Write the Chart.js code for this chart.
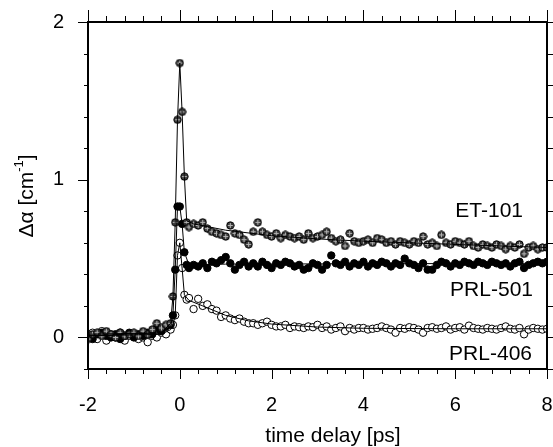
<!DOCTYPE html>
<html>
<head>
<meta charset="utf-8">
<script src="https://cdn.jsdelivr.net/npm/chart.js@4.4.1/dist/chart.umd.min.js"></script>
<style>
  body { margin: 0; background: #fff; }
  #wrap { width: 553px; height: 447px; position: relative; }
</style>
</head>
<body>
<div id="wrap"><canvas id="chart"></canvas></div>
<script>
// time axis (ps), shared by all three samples
const times = [
  -2.0, -1.9, -1.8, -1.7, -1.6, -1.5, -1.4, -1.3, -1.2, -1.1, -1.0, -0.9, -0.8, -0.7, -0.6, -0.5, -0.4, -0.3, -0.2,
  -0.15, -0.1, -0.05, 0, 0.05, 0.1, 0.15,
  0.2, 0.3, 0.4, 0.5, 0.6, 0.7, 0.8, 0.9, 1.0,
  1.1, 1.2, 1.3, 1.4, 1.5, 1.6, 1.7, 1.8, 1.9, 2.0,
  2.1, 2.2, 2.3, 2.4, 2.5, 2.6, 2.7, 2.8, 2.9, 3.0,
  3.1, 3.2, 3.3, 3.4, 3.5, 3.6, 3.7, 3.8, 3.9, 4.0,
  4.1, 4.2, 4.3, 4.4, 4.5, 4.6, 4.7, 4.8, 4.9, 5.0,
  5.1, 5.2, 5.3, 5.4, 5.5, 5.6, 5.7, 5.8, 5.9, 6.0,
  6.1, 6.2, 6.3, 6.4, 6.5, 6.6, 6.7, 6.8, 6.9, 7.0,
  7.1, 7.2, 7.3, 7.4, 7.5, 7.6, 7.7, 7.8, 7.9, 8.0
];

const et101 = [
  -0.01, 0.02, 0.03, 0.01, 0.04, 0.02, 0.00, 0.03, 0.01, 0.02, 0.03, 0.01, 0.04, 0.02, 0.05, 0.09, 0.06, 0.08, 0.09,
  0.26, 0.73, 1.38, 1.74, 1.43, 1.02, 0.73,
  0.70, 0.72, 0.71, 0.73, 0.69, 0.67, 0.66, 0.65, 0.64,
  0.71, 0.66, 0.65, 0.62, 0.59, 0.67, 0.73, 0.67, 0.65, 0.64,
  0.66, 0.63, 0.65, 0.64, 0.63, 0.64, 0.62, 0.66, 0.63, 0.64,
  0.65, 0.67, 0.63, 0.61, 0.62, 0.58, 0.66, 0.61, 0.60, 0.61,
  0.62, 0.60, 0.63, 0.62, 0.60, 0.61, 0.59, 0.61, 0.60, 0.59,
  0.61, 0.60, 0.64, 0.59, 0.60, 0.58, 0.65, 0.60, 0.59, 0.61,
  0.60, 0.59, 0.61, 0.58, 0.57, 0.59, 0.58, 0.57, 0.59, 0.58,
  0.56, 0.58, 0.57, 0.59, 0.53, 0.57, 0.58, 0.56, 0.57, 0.57
];

const prl501 = [
  0.00, -0.01, 0.02, 0.03, 0.01, 0.00, 0.02, -0.01, 0.01, 0.03, 0.00, 0.02, 0.01, 0.03, 0.02, 0.06, 0.04, 0.07, 0.08,
  0.14, 0.43, 0.83, 0.83, 0.72, 0.54, 0.46,
  0.44, 0.46, 0.45, 0.47, 0.44, 0.48, 0.47, 0.49, 0.51,
  0.47, 0.43, 0.46, 0.48, 0.45, 0.47, 0.45, 0.48, 0.46, 0.44,
  0.47, 0.46, 0.48, 0.47, 0.45, 0.46, 0.43, 0.44, 0.47, 0.46,
  0.43, 0.46, 0.52, 0.47, 0.46, 0.48, 0.45, 0.47, 0.46, 0.48,
  0.45, 0.47, 0.46, 0.48, 0.47, 0.45, 0.47, 0.46, 0.50, 0.47,
  0.46, 0.44, 0.47, 0.43, 0.43, 0.46, 0.48, 0.47, 0.45, 0.47,
  0.46, 0.48, 0.47, 0.46, 0.48, 0.47, 0.46, 0.48, 0.47, 0.46,
  0.47, 0.45, 0.47, 0.48, 0.44, 0.46, 0.47, 0.48, 0.47, 0.48
];

const prl406 = [
  0.02, 0.03, -0.01, 0.04, -0.02, 0.02, 0.00, 0.03, -0.02, 0.01, 0.02, -0.01, 0.00, -0.03, 0.01, 0.00, 0.03, 0.02, 0.05,
  0.08, 0.14, 0.52, 0.60, 0.44, 0.27, 0.24,
  0.25, 0.18, 0.245, 0.20, 0.21, 0.18, 0.17, 0.13, 0.14,
  0.12, 0.11, 0.12, 0.10, 0.09, 0.09, 0.08, 0.09, 0.10, 0.08,
  0.07, 0.07, 0.08, 0.06, 0.07, 0.065, 0.06, 0.07, 0.065, 0.08,
  0.06, 0.07, 0.05, 0.06, 0.07, 0.04, 0.06, 0.05, 0.06, 0.06,
  0.05, 0.055, 0.06, 0.07, 0.06, 0.05, 0.03, 0.06, 0.055, 0.065,
  0.06, 0.05, 0.03, 0.06, 0.065, 0.055, 0.06, 0.07, 0.05, 0.06,
  0.065, 0.05, 0.075, 0.06, 0.055, 0.05, 0.06, 0.055, 0.05, 0.06,
  0.07, 0.055, 0.05, 0.06, 0.02, 0.05, 0.06, 0.055, 0.05, 0.055
];

// fitted curves
const fitEtX = [-2, -0.4, -0.2, -0.15, -0.1, -0.05, 0, 0.05, 0.1, 0.15, 0.3, 1, 2, 3, 4, 5, 6, 7, 8];
const fitEtY = [0.02, 0.03, 0.09, 0.26, 0.73, 1.38, 1.74, 1.43, 1.02, 0.74, 0.72, 0.68, 0.645, 0.625, 0.61, 0.60, 0.59, 0.58, 0.57];
const fit501X = [-2, -0.4, -0.2, -0.15, -0.1, -0.05, 0, 0.05, 0.1, 0.2, 1, 8];
const fit501Y = [0.01, 0.03, 0.07, 0.14, 0.43, 0.83, 0.83, 0.72, 0.54, 0.46, 0.465, 0.47];
const fit406X = [-2, -0.4, -0.2, -0.15, -0.1, -0.05, 0, 0.05, 0.1, 0.2, 0.5, 1, 1.5, 2, 3, 4, 6, 8];
const fit406Y = [0.01, 0.02, 0.05, 0.08, 0.14, 0.52, 0.60, 0.44, 0.27, 0.235, 0.2, 0.14, 0.105, 0.085, 0.066, 0.058, 0.055, 0.055];

const xLabels = [-2, 0, 2, 4, 6, 8];
const xMinor = [-1.6, -1.2, -0.8, -0.4, 0.4, 0.8, 1.2, 1.6, 2.4, 2.8, 3.2, 3.6, 4.4, 4.8, 5.2, 5.6, 6.4, 6.8, 7.2, 7.6];
const yLabels = [0, 1, 2];
const yMinor = [-0.2, 0.2, 0.4, 0.6, 0.8, 1.2, 1.4, 1.6, 1.8];

const seriesNames = ['ET-101', 'PRL-501', 'PRL-406'];

function pts(xs, ys) {
    return xs.map((x, i) => ({ x: x, y: ys[i] }));
}

// circle with a cross, used for ET-101
function crossCircle() {
    const c = document.createElement('canvas');
    c.width = 9; c.height = 9;
    const g = c.getContext('2d');
    g.beginPath();
    g.arc(4.5, 4.5, 3.7, 0, Math.PI * 2);
    g.fillStyle = '#3c3c3c';
    g.fill();
    g.lineWidth = 1;
    g.strokeStyle = '#000';
    g.stroke();
    g.strokeStyle = '#b4b4b4';
    g.beginPath();
    g.moveTo(2, 4.5); g.lineTo(7, 4.5);
    g.moveTo(4.5, 2); g.lineTo(4.5, 7);
    g.stroke();
    return c;
}

const FONT = 'Liberation Sans, Arial, sans-serif';

// frame, outward ticks and free texts
const decor = {
    id: 'decor',
    afterDraw(chart) {
        const ctx = chart.ctx;
        const a = chart.chartArea;
        const xs = chart.scales.x, ys = chart.scales.y;
        ctx.save();
        ctx.strokeStyle = '#000';
        ctx.lineWidth = 1;
        ctx.beginPath();
        xLabels.forEach(v => {
            const p = Math.round(xs.getPixelForValue(v)) + 0.5;
            ctx.moveTo(p, a.bottom); ctx.lineTo(p, a.bottom + 10);
            ctx.moveTo(p, a.top); ctx.lineTo(p, a.top - 12);
        });
        xMinor.forEach(v => {
            const p = Math.round(xs.getPixelForValue(v)) + 0.5;
            ctx.moveTo(p, a.bottom); ctx.lineTo(p, a.bottom + 5);
            ctx.moveTo(p, a.top); ctx.lineTo(p, a.top - 6);
        });
        yLabels.forEach(v => {
            const p = Math.round(ys.getPixelForValue(v)) + 0.5;
            ctx.moveTo(a.left, p); ctx.lineTo(a.left - 10, p);
            ctx.moveTo(a.right, p); ctx.lineTo(a.right + 6, p);
        });
        yMinor.forEach(v => {
            const p = Math.round(ys.getPixelForValue(v)) + 0.5;
            ctx.moveTo(a.left, p); ctx.lineTo(a.left - 4, p);
            ctx.moveTo(a.right, p); ctx.lineTo(a.right + 6, p);
        });
        ctx.stroke();

        ctx.lineWidth = 2;
        ctx.strokeRect(a.left, a.top, a.right - a.left, a.bottom - a.top);

        ctx.fillStyle = '#000';
        ctx.font = '21px ' + FONT;
        ctx.textBaseline = 'middle';
        ctx.textAlign = 'right';
        ctx.fillText(seriesNames[0], 523, 211);
        ctx.fillText(seriesNames[1], 533, 290);
        ctx.fillText(seriesNames[2], 532, 354);

        ctx.textAlign = 'center';
        ctx.fillText('time delay [ps]', 333, 436);

        // y title with superscript
        const t1 = 'Δα [cm', t2 = '-1', t3 = ']';
        ctx.font = '21px ' + FONT;
        const w1 = ctx.measureText(t1).width, w3 = ctx.measureText(t3).width;
        ctx.font = '13px ' + FONT;
        const w2 = ctx.measureText(t2).width;
        const total = w1 + w2 + w3;
        ctx.translate(27, 196);
        ctx.rotate(-Math.PI / 2);
        ctx.textAlign = 'left';
        ctx.font = '21px ' + FONT;
        ctx.fillText(t1, -total / 2, 0);
        ctx.font = '13px ' + FONT;
        ctx.fillText(t2, -total / 2 + w1, -8);
        ctx.font = '21px ' + FONT;
        ctx.fillText(t3, -total / 2 + w1 + w2, 0);
        ctx.restore();
    }
};

const lineStyle = { type: 'line', borderColor: '#000', borderWidth: 1, pointRadius: 0, fill: false, tension: 0, order: 0 };

new Chart(document.getElementById('chart'), {
    type: 'scatter',
    data: {
        datasets: [
            Object.assign({ label: 'fit ' + seriesNames[0], data: pts(fitEtX, fitEtY) }, lineStyle),
            Object.assign({ label: 'fit ' + seriesNames[1], data: pts(fit501X, fit501Y) }, lineStyle),
            Object.assign({ label: 'fit ' + seriesNames[2], data: pts(fit406X, fit406Y) }, lineStyle),
            {
                label: seriesNames[2],
                data: pts(times, prl406),
                pointStyle: 'circle',
                pointRadius: 3.7,
                backgroundColor: '#fff',
                borderColor: '#000',
                borderWidth: 1,
                order: 3
            },
            {
                label: seriesNames[1],
                data: pts(times, prl501),
                pointStyle: 'circle',
                pointRadius: 3.7,
                backgroundColor: '#000',
                borderColor: '#000',
                borderWidth: 1,
                order: 2
            },
            {
                label: seriesNames[0],
                data: pts(times, et101),
                pointStyle: crossCircle(),
                order: 1
            }
        ]
    },
    options: {
        responsive: true,
        maintainAspectRatio: false,
        animation: false,
        layout: { padding: { top: 22, right: 6, left: 0, bottom: 0 } },
        plugins: {
            legend: { display: false },
            tooltip: { enabled: false }
        },
        scales: {
            x: {
                type: 'linear',
                min: -2,
                max: 8,
                afterBuildTicks: s => { s.ticks = xLabels.map(v => ({ value: v })); },
                afterFit: s => { s.height = 78; s.paddingLeft = 0; s.paddingRight = 0; },
                ticks: { font: { family: FONT, size: 20 }, color: '#000', padding: 24, maxRotation: 0 },
                grid: { display: false, drawTicks: false },
                border: { display: false }
            },
            y: {
                type: 'linear',
                min: -0.2,
                max: 2,
                afterBuildTicks: s => { s.ticks = yLabels.map(v => ({ value: v })); },
                afterFit: s => { s.width = 88; s.paddingTop = 0; s.paddingBottom = 0; },
                ticks: { font: { family: FONT, size: 20 }, color: '#000', padding: 24 },
                grid: { display: false, drawTicks: false },
                border: { display: false }
            }
        }
    },
    plugins: [decor]
});
</script>
</body>
</html>
